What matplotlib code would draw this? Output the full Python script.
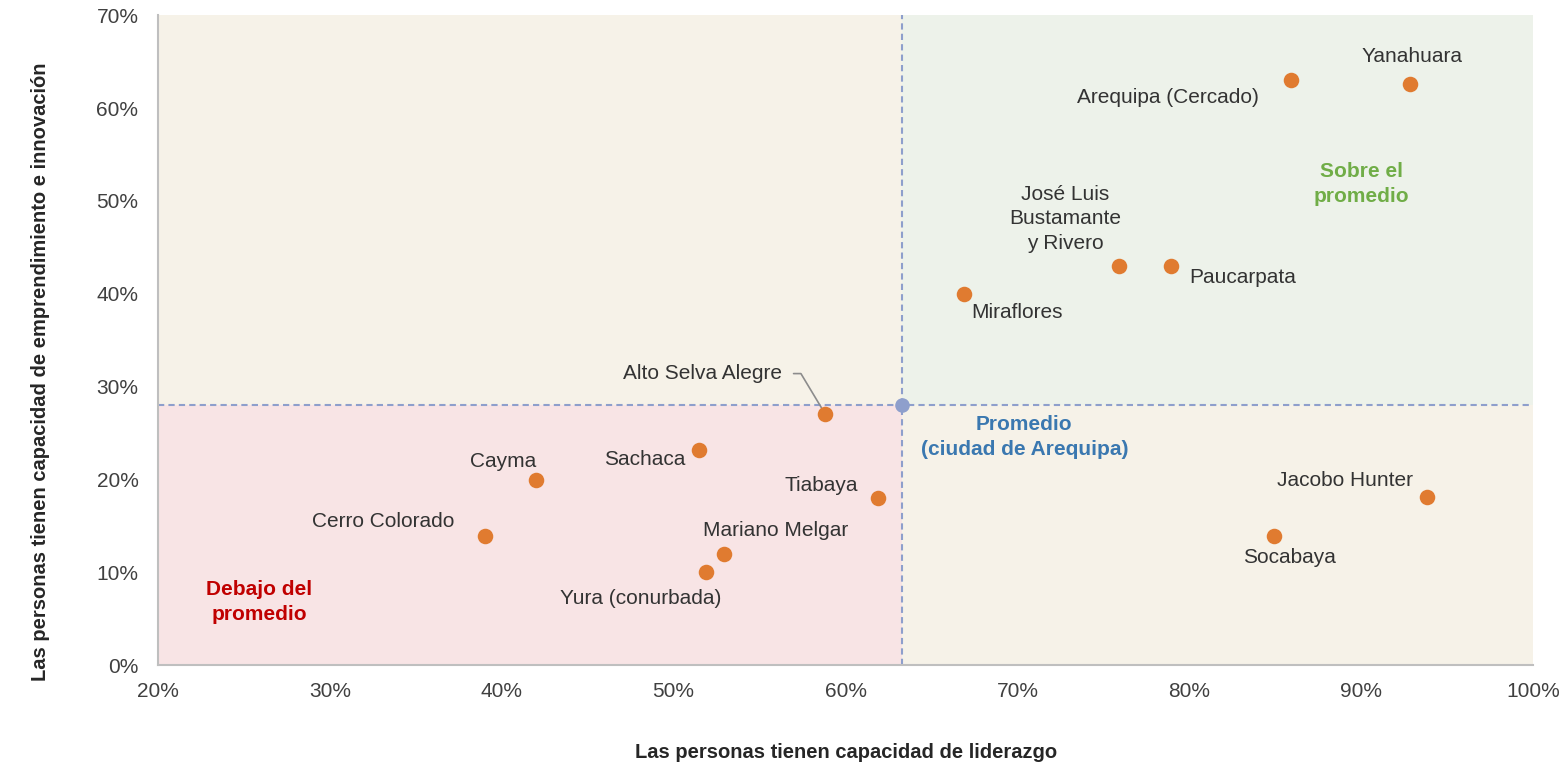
import matplotlib.pyplot as plt
from matplotlib.patches import Rectangle
from matplotlib.ticker import PercentFormatter

plt.rcParams['font.family'] = ['Liberation Sans', 'DejaVu Sans']

districts = ['Yanahuara', 'Arequipa (Cercado)', 'José Luis\nBustamante\ny Rivero',
             'Paucarpata', 'Miraflores', 'Alto Selva Alegre', 'Cayma', 'Sachaca',
             'Tiabaya', 'Jacobo Hunter', 'Cerro Colorado', 'Mariano Melgar',
             'Socabaya', 'Yura (conurbada)']
liderazgo = [92.8, 85.9, 75.9, 78.9, 66.9, 58.8, 42.0, 51.5, 61.9, 93.8, 39.0, 52.9, 84.9, 51.9]
emprendimiento = [62.6, 63.0, 43.0, 43.0, 40.0, 27.1, 19.9, 23.2, 18.0, 18.1, 13.9, 12.0, 13.9, 10.0]

avg_x = 63.3
avg_y = 28.0

# label offsets in pixels (dx, dy) from each point
offsets = [(3, 27), (-123, -17), (-54, 47), (72, -12), (53, -19), (-122, 40),
           (-33, 19), (-55, -10), (-57, 13), (-82, 17), (-101, 15), (52, 23),
           (16, -21), (-66, -26)]

fig = plt.figure(figsize=(15.63, 7.62), dpi=100)
ax = fig.add_axes([0.101, 0.127, 0.880, 0.853])

xmin, xmax, ymin, ymax = 20, 100, 0, 70
ax.set_xlim(xmin, xmax)
ax.set_ylim(ymin, ymax)

# quadrant backgrounds
ax.add_patch(Rectangle((xmin, avg_y), avg_x - xmin, ymax - avg_y, color='#F6F2E8', zorder=0, lw=0))
ax.add_patch(Rectangle((avg_x, avg_y), xmax - avg_x, ymax - avg_y, color='#EDF2EA', zorder=0, lw=0))
ax.add_patch(Rectangle((xmin, ymin), avg_x - xmin, avg_y - ymin, color='#F8E4E5', zorder=0, lw=0))
ax.add_patch(Rectangle((avg_x, ymin), xmax - avg_x, avg_y - ymin, color='#F6F2E8', zorder=0, lw=0))

ax.axhline(avg_y, color='#8E9FCC', ls=(0, (3, 2)), lw=1.5, zorder=1)
ax.axvline(avg_x, color='#8E9FCC', ls=(0, (3, 2)), lw=1.5, zorder=1)
ax.scatter([avg_x], [avg_y], s=110, color='#8E9FCC', zorder=3, lw=0)

ax.scatter(liderazgo, emprendimiento, s=125, color='#E07B30', zorder=4, lw=0)

for name, x, y, (dx, dy) in zip(districts, liderazgo, emprendimiento, offsets):
    if name == 'Alto Selva Alegre':
        ax.annotate(name, (x, y), xytext=(dx, dy), textcoords='offset pixels',
                    ha='center', va='center', fontsize=15, color='#333333',
                    arrowprops=dict(arrowstyle='-', color='#8C8C8C', lw=1.2,
                                    connectionstyle='angle,angleA=0,angleB=121,rad=0',
                                    shrinkA=6, shrinkB=3,
                                    relpos=(1.0, 0.5)))
    else:
        ax.annotate(name, (x, y), xytext=(dx, dy), textcoords='offset pixels',
                    ha='center', va='center', fontsize=15, color='#333333',
                    linespacing=1.35)

ax.text(90.0, 51.8, 'Sobre el\npromedio', ha='center', va='center', fontsize=15,
        fontweight='bold', color='#70AD47', linespacing=1.4)
ax.text(70.4, 24.6, 'Promedio\n(ciudad de Arequipa)', ha='center', va='center', fontsize=15,
        fontweight='bold', color='#3A78B0', linespacing=1.4)
ax.text(25.9, 6.8, 'Debajo del\npromedio', ha='center', va='center', fontsize=15,
        fontweight='bold', color='#C00000', linespacing=1.4)

ax.xaxis.set_major_formatter(PercentFormatter(decimals=0))
ax.yaxis.set_major_formatter(PercentFormatter(decimals=0))
ax.set_xticks(range(20, 101, 10))
ax.set_yticks(range(0, 71, 10))
ax.tick_params(length=0, labelsize=15, colors='#404040')
ax.tick_params(axis='x', pad=12)
ax.tick_params(axis='y', pad=14)

for s in ['top', 'right']:
    ax.spines[s].set_visible(False)
for s in ['left', 'bottom']:
    ax.spines[s].set_color('#BFBFBF')
    ax.spines[s].set_linewidth(1.5)

fig.text(0.541, 0.012, 'Las personas tienen capacidad de liderazgo', ha='center', va='center',
         fontsize=14.5, fontweight='bold', color='#262626')
fig.text(0.026, 0.512, 'Las personas tienen capacidad de emprendimiento e innovación', rotation=90,
         ha='center', va='center', fontsize=14.5, fontweight='bold', color='#262626')

plt.savefig('out.png', dpi=100)
